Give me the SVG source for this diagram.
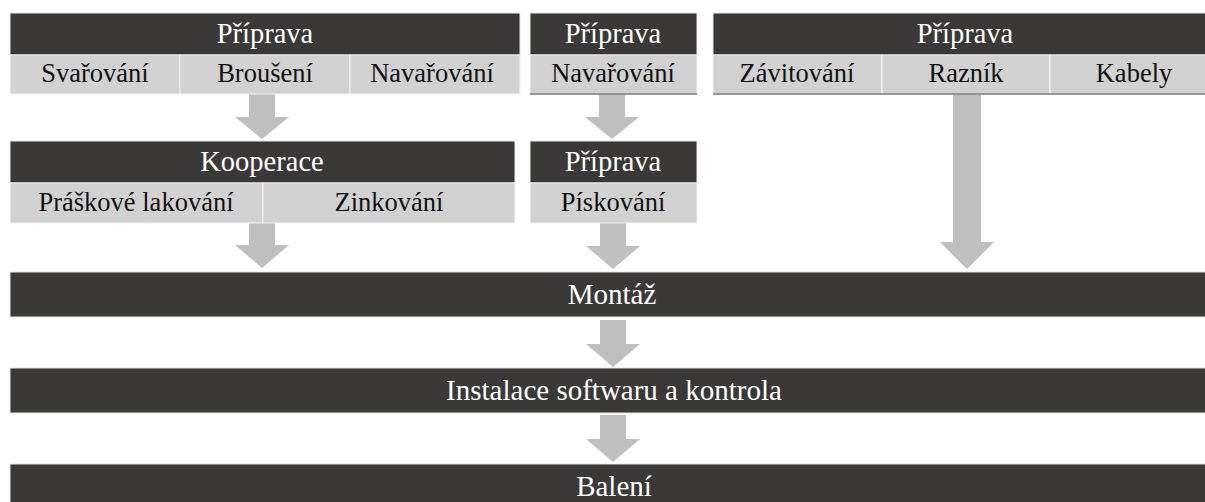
<svg xmlns="http://www.w3.org/2000/svg" width="1205" height="502" viewBox="0 0 1205 502">
<style>
.dk{fill:#3b3938;stroke:#e8e8e8;stroke-width:1}
.lt{fill:#d1d1d1;stroke:#f2f2f2;stroke-width:1}
text{font-family:'Liberation Serif',serif;text-anchor:middle}
.ht{font-size:28.5px;fill:#ffffff}
.rt{font-size:26.5px;fill:#111111}
.bt{font-size:29px;fill:#ffffff}
.ar{fill:#bfbfbf}
.bl{stroke:#7a7a7a;stroke-width:1.5}
</style>
<rect width="1205" height="502" fill="#ffffff"/>
<g id="connectors">
<polygon class="ar" points="249,94 275,94 275,117 289,117 262,139 235,117 249,117"/>
<polygon class="ar" points="599,94 625,94 625,117 639,117 612,139 585,117 599,117"/>
<polygon class="ar" points="953,94 981,94 981,242 994,242 967,269 940,242 953,242"/>
<polygon class="ar" points="249,223 275,223 275,245 289,245 262,268 235,245 249,245"/>
<polygon class="ar" points="600,223 626,223 626,246 640,246 613,269 586,246 600,246"/>
<polygon class="ar" points="600,320 626,320 626,344 640,344 613,367 586,344 600,344"/>
<polygon class="ar" points="600,415 626,415 626,439 640,439 613,462 586,439 600,439"/>
</g>
<g id="node-priprava1">
<rect class="dk" x="10" y="13" width="510" height="42"/>
<rect class="lt" x="10" y="55" width="170" height="39"/>
<rect class="lt" x="180" y="55" width="170" height="39"/>
<rect class="lt" x="350" y="55" width="170" height="39"/>
<text class="ht" x="265" y="43" font-family="Liberation Serif, serif">Příprava</text>
<text class="rt" x="95" y="82" font-family="Liberation Serif, serif">Svařování</text>
<text class="rt" x="265" y="82" font-family="Liberation Serif, serif">Broušení</text>
<text class="rt" x="432" y="82" font-family="Liberation Serif, serif">Navařování</text>
</g>
<g id="node-priprava2">
<rect class="dk" x="530" y="13" width="167" height="42"/>
<rect class="lt" x="530" y="55" width="167" height="39"/>
<line class="bl" x1="530" y1="94" x2="697" y2="94"/>
<text class="ht" x="613" y="43" font-family="Liberation Serif, serif">Příprava</text>
<text class="rt" x="613" y="82" font-family="Liberation Serif, serif">Navařování</text>
</g>
<g id="node-priprava3">
<rect class="dk" x="713" y="13" width="505" height="42"/>
<rect class="lt" x="713" y="55" width="169" height="39"/>
<rect class="lt" x="882" y="55" width="168" height="39"/>
<rect class="lt" x="1050" y="55" width="168" height="39"/>
<line class="bl" x1="713" y1="94" x2="1218" y2="94"/>
<text class="ht" x="965" y="43" font-family="Liberation Serif, serif">Příprava</text>
<text class="rt" x="797" y="82" font-family="Liberation Serif, serif">Závitování</text>
<text class="rt" x="966" y="82" font-family="Liberation Serif, serif">Razník</text>
<text class="rt" x="1134" y="82" font-family="Liberation Serif, serif">Kabely</text>
</g>
<g id="node-kooperace">
<rect class="dk" x="10" y="141" width="505" height="42"/>
<rect class="lt" x="10" y="183" width="253" height="40"/>
<rect class="lt" x="263" y="183" width="252" height="40"/>
<text class="ht" x="262" y="171" font-family="Liberation Serif, serif">Kooperace</text>
<text class="rt" x="136" y="211" font-family="Liberation Serif, serif">Práškové lakování</text>
<text class="rt" x="389" y="211" font-family="Liberation Serif, serif">Zinkování</text>
</g>
<g id="node-priprava4">
<rect class="dk" x="530" y="141" width="167" height="42"/>
<rect class="lt" x="530" y="183" width="167" height="40"/>
<text class="ht" x="613" y="171" font-family="Liberation Serif, serif">Příprava</text>
<text class="rt" x="613" y="211" font-family="Liberation Serif, serif">Pískování</text>
</g>
<g id="node-montaz">
<rect class="dk" x="10" y="272" width="1208" height="45"/>
<text class="bt" x="612" y="304" font-family="Liberation Serif, serif">Montáž</text>
</g>
<g id="node-instalace">
<rect class="dk" x="10" y="368" width="1208" height="45"/>
<text class="bt" x="614" y="400" font-family="Liberation Serif, serif">Instalace softwaru a kontrola</text>
</g>
<g id="node-baleni">
<rect class="dk" x="10" y="464" width="1208" height="45"/>
<text class="bt" x="614" y="496" font-family="Liberation Serif, serif">Balení</text>
</g>
</svg>
